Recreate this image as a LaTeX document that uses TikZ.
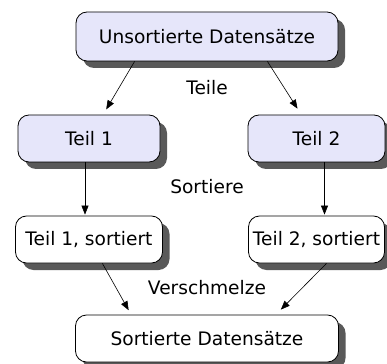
\documentclass[tikz,border=0pt]{standalone}
\usepackage{fontspec}
\setmainfont{DejaVu Sans}
\usetikzlibrary{positioning,shadows,arrows.meta}

\definecolor{partfill}{RGB}{230,230,250}
\tikzset{
  box/.style={draw, thick, rounded corners=11pt, inner sep=0pt, minimum height=47pt,
    drop shadow={shadow xshift=7pt, shadow yshift=-7pt, fill=black!65, opacity=1}},
  part/.style={box, fill=partfill},
  done/.style={box, fill=white},
  step label/.style={inner sep=0pt}
}

\begin{document}
\begin{tikzpicture}[on grid, font=\fontsize{18.6}{22}\selectfont,
    >={Triangle[length=9pt,width=7pt]}, shorten >=1pt]
  \useasboundingbox (0,0) rectangle (387pt,-363pt);
  \fill[white] (0,0) rectangle (387pt,-363pt);

  \node[part, minimum width=262pt, minimum height=49pt] (unsorted) at (207pt,-36.5pt) {Unsortierte Datensätze};
  \node[part, minimum width=142pt] (part1) [below left=102pt and 118pt of unsorted] {Teil 1};
  \node[part, minimum width=137pt] (part2) [below right=102pt and 109.5pt of unsorted] {Teil 2};
  \node[done, minimum width=147pt] (sorted1) [below=101pt of part1] {Teil 1, sortiert};
  \node[done, minimum width=136pt] (sorted2) [below=101pt of part2] {Teil 2, sortiert};
  \node[done, minimum width=263pt] (merged) [below=302pt of unsorted] {Sortierte Datensätze};

  % labels between the rows
  \node[step label] (teile) [below=51.5pt of unsorted] {Teile};
  \node[step label] (sortiere) [below=150.5pt of unsorted] {Sortiere};
  \node[step label] (verschmelze) [above=50.5pt of merged] {Verschmelze};

  \path[->, semithick]
    ([xshift=59pt]unsorted.south west) edge[shorten >=6pt] (part1)
    ([xshift=-71pt]unsorted.south east) edge[shorten >=7pt] (part2)
    ([xshift=-4pt]part1.south) edge ([xshift=-4pt]sorted1.north)
    ([xshift=8pt]part2.south) edge ([xshift=8pt]sorted2.north)
    (sorted1) edge[shorten >=5pt] ([xshift=56pt]merged.north west)
    ([xshift=10pt]sorted2.south) edge[shorten >=7pt] ([xshift=-63pt]merged.north east);
\end{tikzpicture}
\end{document}
